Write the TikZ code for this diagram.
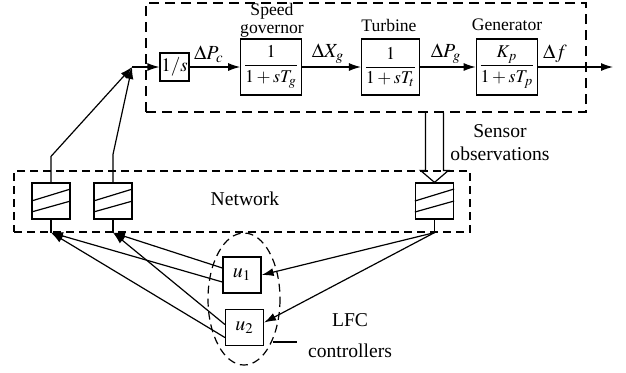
\documentclass[tikz,border=0pt]{standalone}
\usepackage{mathptmx}
\usepackage[no-math]{fontspec}
\setmainfont{Liberation Serif}
\usetikzlibrary{arrows.meta, positioning, fit, calc}

\begin{document}
\begin{tikzpicture}[
    x=0.5pt, y=-0.5pt,
    block/.style={
        draw, line width=0.6pt, minimum width=28pt, minimum height=28pt,
        inner sep=1pt, font=\fontsize{9}{10}\selectfont
    },
    intbox/.style={
        draw, line width=0.6pt, minimum width=14.5pt, minimum height=14pt,
        inner sep=0pt, font=\fontsize{9.5}{10}\selectfont
    },
    sensorbox/.style={
        draw, line width=0.6pt, minimum width=19pt, minimum height=18pt, inner sep=0pt
    },
    ctrlbox/.style={
        draw, line width=0.6pt, minimum width=19pt, minimum height=18pt,
        inner sep=0pt, font=\fontsize{10}{10}\selectfont
    },
    blocklabel/.style={font=\fontsize{8.8}{9}\selectfont, align=center, inner sep=0pt},
    signal/.style={font=\fontsize{10}{10}\selectfont, inner sep=0pt},
    arrow/.style={-{Latex[length=6pt, width=4pt]}, line width=0.6pt},
    plain/.style={line width=0.6pt},
    dashed border/.style={draw, line width=0.6pt, dash pattern=on 5pt off 3pt, inner sep=0pt},
    net border/.style={draw, line width=0.6pt, dash pattern=on 4pt off 2.5pt, inner sep=0pt}
]
\useasboundingbox (0,0) rectangle (626,372);

% PLANT: integrator, governor, turbine, generator
\node[dashed border, fit={(146,3) (586,112)}] (plant) {};
\node[intbox] (int) at (174.5,67) {$1/s$};
\node[block] (gov) at (271,67) {$\displaystyle\frac{1}{1+sT_g}$};
\node[block] (turb) at (390.5,67) {$\displaystyle\frac{1}{1+sT_t}$};
\node[block] (gen) at (507,67) {$\displaystyle\frac{K_p}{1+sT_p}$};
\coordinate (jn) at (132,67);
\coordinate (out) at (613,67);

\node[blocklabel] at (272,20) {Speed\\governor};
\node[blocklabel] at (389,25) {Turbine};
\node[blocklabel] at (507,25) {Generator};

\draw[arrow] (jn) -- (int);
\draw[arrow] (int) -- (gov);
\draw[arrow] (gov) -- (turb);
\draw[arrow] (turb) -- (gen);
\draw[arrow] (gen) -- (out);

\node[signal] at (209,54) {$\Delta P_c$};
\node[signal] at (328,54) {$\Delta X_g$};
\node[signal] at (446,54) {$\Delta P_g$};
\node[signal] at (555,54) {$\Delta f$};

% NETWORK with sensors
\node[net border, fit={(14,171) (470,232)}] (net) {};
\node[font=\fontsize{9.8}{11}\selectfont] at (245,199) {Network};
\node[sensorbox] (s1) at (51,201) {};
\node[sensorbox] (s2) at (113,201) {};
\node[sensorbox] (s3) at (434.5,201) {};
\foreach \s in {s1,s2,s3} {
    \draw[plain] (\s.west) -- ($(\s.east)+(0,-12)$);
    \draw[plain] ($(\s.west)+(0,11)$) -- (\s.east);
}
\coordinate (b1) at (s1.south |- net.south);
\coordinate (b2) at (s2.south |- net.south);
\coordinate (b3) at (s3.south |- net.south);
\draw[plain] (s1) -- (b1);
\draw[plain] (s2) -- (b2);
\draw[plain] (s3) -- (b3);

% sensor observations (hollow arrow)
\coordinate (tip) at (s3.north);
\coordinate (wl) at ($(tip)+(-14,-12)$);
\coordinate (wr) at ($(tip)+(14,-12)$);
\coordinate (nl) at ($(tip)+(-9,-12)$);
\coordinate (nr) at ($(tip)+(9,-12)$);
\draw[plain] (nl |- plant.south) -- (nl) -- (wl) -- (tip) -- (wr) -- (nr) -- (nr |- plant.south);
\node[font=\fontsize{9.8}{11.5}\selectfont, align=center] at (500,143) {Sensor\\observations};

% feedback to the integrator
\draw[arrow] (s1.north) -- ++(0,-26) -- (jn);
\draw[arrow] (s2.north) -- ++(0,-28) -- (jn);

% LFC CONTROLLERS
\node[ctrlbox] (u1) at (242,275) {$u_1$};
\node[ctrlbox] (u2) at (244.5,327.5) {$u_2$};
\draw[dash pattern=on 4pt off 2.5pt, line width=0.6pt] (244,299) ellipse (36 and 66);
\draw[plain] (273,342) -- (297,342);
\node[font=\fontsize{9.8}{15.5}\selectfont, align=center] at (350,336) {LFC\\controllers};

\draw[arrow] ($(u1.west)+(0,-7)$) -- (b2);
\draw[arrow] ($(u1.west)+(0,7)$) -- (b1);
\draw[arrow] ($(u2.west)+(0,-3)$) -- (b2);
\draw[arrow] ($(u2.west)+(0,10)$) -- (b1);
\draw[arrow] (b3) -- (u1.east);
\draw[arrow] (b3) -- ($(u2.east)+(0,-5)$);

\end{tikzpicture}
\end{document}
